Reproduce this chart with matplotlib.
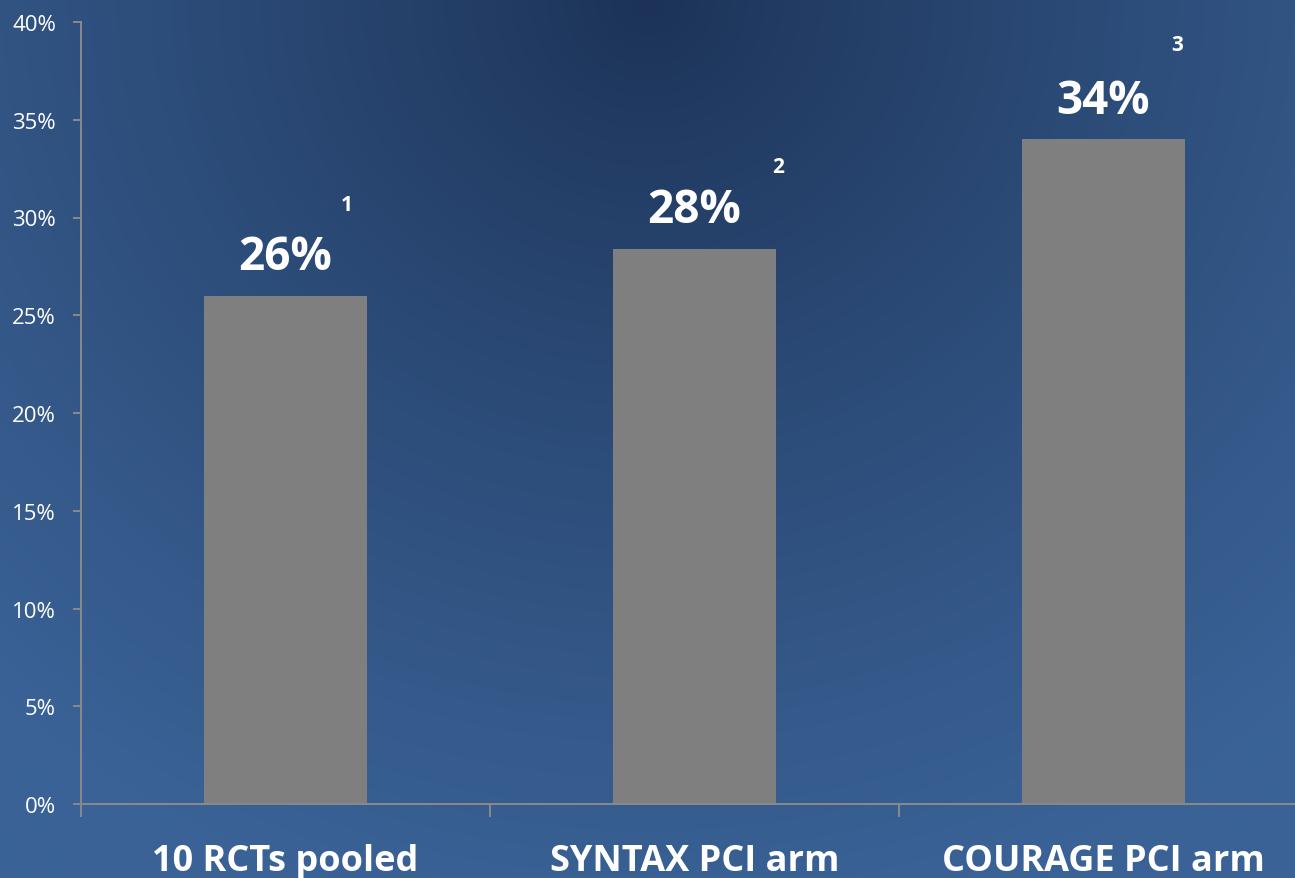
import matplotlib
matplotlib.use("Agg")
import matplotlib.pyplot as plt
import numpy as np
from matplotlib.ticker import FuncFormatter

# ---- data ----
categories = ["10 RCTs pooled", "SYNTAX PCI arm", "COURAGE PCI arm"]
values = [26.0, 28.4, 34.0]
refs = ["1", "2", "3"]

# superscript offsets from bar top (points) - placement only
ref_offsets = [(44, 66), (60, 59), (53, 68)]

fig = plt.figure(figsize=(12.95, 8.79), dpi=100)

# background: dark blue at top centre fading lighter to the edges/bottom
bg = fig.add_axes([0, 0, 1, 1], zorder=-1)
h, w = 300, 440
yy, xx = np.mgrid[0:h, 0:w]
xf = xx / (w - 1)
yf = yy / (h - 1)
d = np.sqrt(((xf - 0.5) / 0.75) ** 2 + (yf / 1.05) ** 2)
d = np.clip(d, 0, 1) ** 0.85
dark = np.array([28, 50, 86]) / 255
light = np.array([58, 98, 150]) / 255
img = dark + (light - dark) * d[..., None]
bg.imshow(img, aspect="auto", extent=[0, 1, 0, 1], interpolation="bicubic")
bg.set_axis_off()

ax = fig.add_axes([81 / 1295, 74 / 879, 1227 / 1295, 782 / 879])
ax.set_facecolor("none")

x = np.arange(len(categories)) + 0.5
ax.bar(x, values, width=0.4, color="#7f7f7f", zorder=2)

ax.set_xlim(0, 3)
ax.set_ylim(0, 40)
ax.set_yticks(np.arange(0, 41, 5))
ax.yaxis.set_major_formatter(FuncFormatter(lambda v, _: f"{v:.0f}%"))

ax.set_xticks([0, 1, 2, 3])
ax.set_xticklabels([])
ax.set_xticks(x, minor=True)
ax.set_xticklabels(categories, minor=True)

for s in ["top", "right"]:
    ax.spines[s].set_visible(False)
for s in ["left", "bottom"]:
    ax.spines[s].set_color("#8a8a8a")
    ax.spines[s].set_linewidth(1.4)

ax.tick_params(axis="y", which="major", colors="#8a8a8a", length=6, width=1.4,
               labelcolor="white", labelsize=16, pad=12)
ax.tick_params(axis="x", which="major", colors="#8a8a8a", length=9, width=1.4)
ax.tick_params(axis="x", which="minor", length=0, labelcolor="white", labelsize=26, pad=28)
for lab in ax.get_yticklabels():
    lab.set_family("Open Sans")
for lab in ax.get_xticklabels(minor=True):
    lab.set_family("Open Sans")
    lab.set_fontweight("bold")

for xi, v, r, (dx, dy) in zip(x, values, refs, ref_offsets):
    ax.annotate(f"{v:.0f}%", xy=(xi, v), xytext=(0, 19), textcoords="offset points",
                ha="center", va="baseline", color="white", fontsize=33,
                fontweight="bold", family="Open Sans")
    ax.annotate(r, xy=(xi, v), xytext=(dx, dy), textcoords="offset points",
                ha="center", va="center", color="white", fontsize=15,
                fontweight="bold", family="Open Sans")

fig.savefig("out.png", dpi=100)
